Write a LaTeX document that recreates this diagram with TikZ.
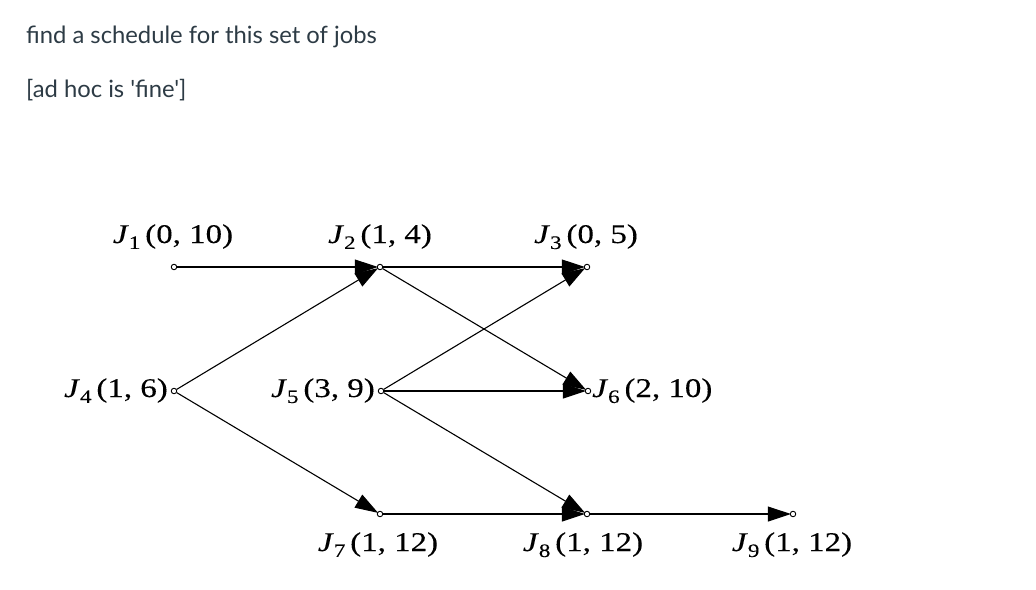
\documentclass[tikz,border=0pt]{standalone}
\usepackage{fontspec}
\setmainfont{Liberation Serif}
\newfontfamily\widetimes[FakeStretch=1.22,FakeBold=0.2]{Liberation Serif}
\newfontfamily\latofont{Lato}
\usetikzlibrary{arrows.meta}
\definecolor{canvastext}{HTML}{2D3B45}
\newcommand\joblbl[2]{\textit{J}\raisebox{-0.22em}{\fontsize{19}{22}\selectfont #1}\hspace{0.18em}(#2)}
\begin{document}
\begin{tikzpicture}[x=1pt,y=-1pt,
  dot/.style={circle,draw,line width=0.9pt,inner sep=0pt,minimum size=5.5pt,fill=white},
  arr/.style={line width=1.1pt,-{Triangle[length=23pt,width=15pt]},shorten >=-1pt},
  lbl/.style={inner sep=0pt,anchor=base,font=\widetimes\fontsize{27}{30}\selectfont},
  ttl/.style={inner sep=0pt,anchor=west,text=canvastext,font=\latofont\fontsize{23.8}{28}\selectfont}]
\useasboundingbox (0,0) rectangle (1036,589);
\node[ttl] (t1) at (26,37) {find a schedule for this set of jobs};
\node[ttl] (t2) at (26,90) {[ad hoc is 'fine']};
\node[dot] (j1) at (174,267) {};
\node[dot] (j2) at (380,267) {};
\node[dot] (j3) at (587,267) {};
\node[dot] (j4) at (174,391) {};
\node[dot] (j5) at (381,391) {};
\node[dot] (j6) at (588,391) {};
\node[dot] (j7) at (380,514) {};
\node[dot] (j8) at (587,514) {};
\node[dot] (j9) at (793,514) {};
\draw[arr] (j1) -- (j2);
\draw[arr] (j2) -- (j3);
\draw[arr] (j4) -- (j2);
\draw[arr] (j2) -- (j6);
\draw[arr] (j5) -- (j3);
\draw[arr] (j5) -- (j6);
\draw[arr] (j4) -- (j7);
\draw[arr] (j5) -- (j8);
\draw[arr] (j7) -- (j8);
\draw[arr] (j8) -- (j9);
\node[lbl] (l1) at (173,243) {\joblbl{1}{0, 10}};
\node[lbl] (l2) at (380,243) {\joblbl{2}{1, 4}};
\node[lbl] (l3) at (586,243) {\joblbl{3}{0, 5}};
\node[lbl,anchor=base east] (l4) at (168,397) {\joblbl{4}{1, 6}};
\node[lbl,anchor=base east] (l5) at (375,397) {\joblbl{5}{3, 9}};
\node[lbl,anchor=base west] (l6) at (592,397) {\joblbl{6}{2, 10}};
\node[lbl] (l7) at (378,551) {\joblbl{7}{1, 12}};
\node[lbl] (l8) at (583,551) {\joblbl{8}{1, 12}};
\node[lbl] (l9) at (792,551) {\joblbl{9}{1, 12}};
\end{tikzpicture}
\end{document}
